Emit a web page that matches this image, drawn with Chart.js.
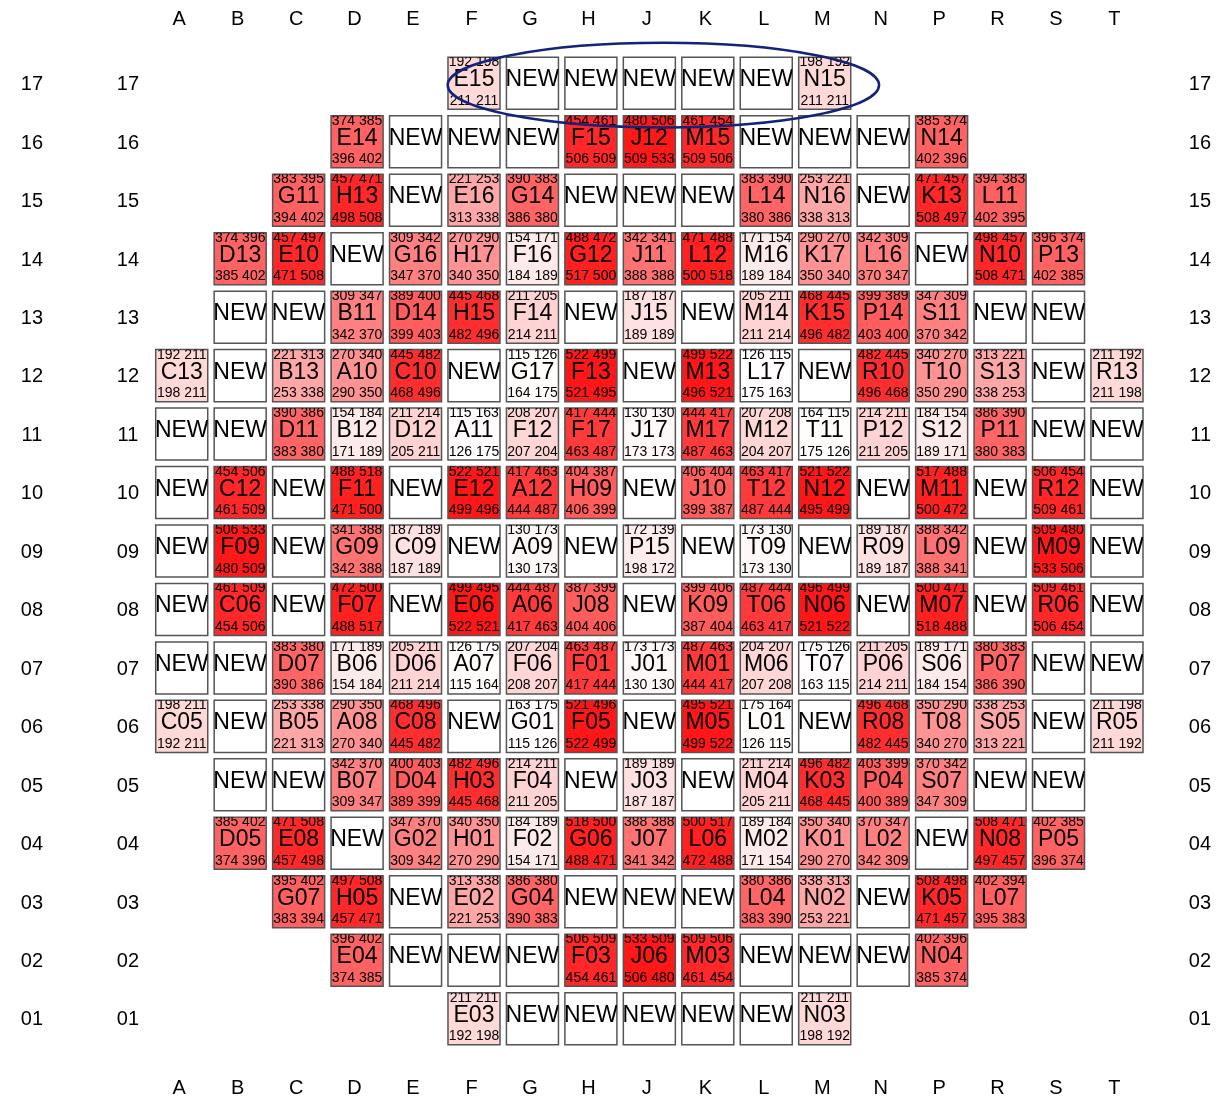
<!DOCTYPE html>
<html>
<head>
<meta charset="utf-8">
<script src="https://cdn.jsdelivr.net/npm/chart.js@4.4.1/dist/chart.umd.min.js"></script>
<style>
  html, body { margin: 0; padding: 0; background: #fff; }
  #wrap { width: 1231px; height: 1101px; position: relative; }
</style>
</head>
<body>
<div id="wrap"><canvas id="coreMap"></canvas></div>
<script>
const columns = ['A','B','C','D','E','F','G','H','J','K','L','M','N','P','R','S','T'];
const rows = ['17','16','15','14','13','12','11','10','09','08','07','06','05','04','03','02','01'];

// first occupied column of each row, top row first
const rowStart = ['F','D','C','B','B','A','A','A','A','A','A','A','B','B','C','D','F'];

// assembly id in each position, left to right from rowStart
const labelRows = [
  ['E15','NEW','NEW','NEW','NEW','NEW','N15'],
  ['E14','NEW','NEW','NEW','F15','J12','M15','NEW','NEW','NEW','N14'],
  ['G11','H13','NEW','E16','G14','NEW','NEW','NEW','L14','N16','NEW','K13','L11'],
  ['D13','E10','NEW','G16','H17','F16','G12','J11','L12','M16','K17','L16','NEW','N10','P13'],
  ['NEW','NEW','B11','D14','H15','F14','NEW','J15','NEW','M14','K15','P14','S11','NEW','NEW'],
  ['C13','NEW','B13','A10','C10','NEW','G17','F13','NEW','M13','L17','NEW','R10','T10','S13','NEW','R13'],
  ['NEW','NEW','D11','B12','D12','A11','F12','F17','J17','M17','M12','T11','P12','S12','P11','NEW','NEW'],
  ['NEW','C12','NEW','F11','NEW','E12','A12','H09','NEW','J10','T12','N12','NEW','M11','NEW','R12','NEW'],
  ['NEW','F09','NEW','G09','C09','NEW','A09','NEW','P15','NEW','T09','NEW','R09','L09','NEW','M09','NEW'],
  ['NEW','C06','NEW','F07','NEW','E06','A06','J08','NEW','K09','T06','N06','NEW','M07','NEW','R06','NEW'],
  ['NEW','NEW','D07','B06','D06','A07','F06','F01','J01','M01','M06','T07','P06','S06','P07','NEW','NEW'],
  ['C05','NEW','B05','A08','C08','NEW','G01','F05','NEW','M05','L01','NEW','R08','T08','S05','NEW','R05'],
  ['NEW','NEW','B07','D04','H03','F04','NEW','J03','NEW','M04','K03','P04','S07','NEW','NEW'],
  ['D05','E08','NEW','G02','H01','F02','G06','J07','L06','M02','K01','L02','NEW','N08','P05'],
  ['G07','H05','NEW','E02','G04','NEW','NEW','NEW','L04','N02','NEW','K05','L07'],
  ['E04','NEW','NEW','NEW','F03','J06','M03','NEW','NEW','NEW','N04'],
  ['E03','NEW','NEW','NEW','NEW','NEW','N03']
];

// corner values [top-left, top-right, bottom-left, bottom-right]; null for fresh fuel
const valueRows = [
  [[192,198,211,211],null,null,null,null,null,[198,192,211,211]],
  [[374,385,396,402],null,null,null,[454,461,506,509],[480,506,509,533],[461,454,509,506],null,null,null,[385,374,402,396]],
  [[383,395,394,402],[457,471,498,508],null,[221,253,313,338],[390,383,386,380],null,null,null,[383,390,380,386],[253,221,338,313],null,[471,457,508,497],[394,383,402,395]],
  [[374,396,385,402],[457,497,471,508],null,[309,342,347,370],[270,290,340,350],[154,171,184,189],[488,472,517,500],[342,341,388,388],[471,488,500,518],[171,154,189,184],[290,270,350,340],[342,309,370,347],null,[498,457,508,471],[396,374,402,385]],
  [null,null,[309,347,342,370],[389,400,399,403],[445,468,482,496],[211,205,214,211],null,[187,187,189,189],null,[205,211,211,214],[468,445,496,482],[399,389,403,400],[347,309,370,342],null,null],
  [[192,211,198,211],null,[221,313,253,338],[270,340,290,350],[445,482,468,496],null,[115,126,164,175],[522,499,521,495],null,[499,522,496,521],[126,115,175,163],null,[482,445,496,468],[340,270,350,290],[313,221,338,253],null,[211,192,211,198]],
  [null,null,[390,386,383,380],[154,184,171,189],[211,214,205,211],[115,163,126,175],[208,207,207,204],[417,444,463,487],[130,130,173,173],[444,417,487,463],[207,208,204,207],[164,115,175,126],[214,211,211,205],[184,154,189,171],[386,390,380,383],null,null],
  [null,[454,506,461,509],null,[488,518,471,500],null,[522,521,499,496],[417,463,444,487],[404,387,406,399],null,[406,404,399,387],[463,417,487,444],[521,522,495,499],null,[517,488,500,472],null,[506,454,509,461],null],
  [null,[506,533,480,509],null,[341,388,342,388],[187,189,187,189],null,[130,173,130,173],null,[172,139,198,172],null,[173,130,173,130],null,[189,187,189,187],[388,342,388,341],null,[509,480,533,506],null],
  [null,[461,509,454,506],null,[472,500,488,517],null,[499,495,522,521],[444,487,417,463],[387,399,404,406],null,[399,406,387,404],[487,444,463,417],[496,499,521,522],null,[500,471,518,488],null,[509,461,506,454],null],
  [null,null,[383,380,390,386],[171,189,154,184],[205,211,211,214],[126,175,115,164],[207,204,208,207],[463,487,417,444],[173,173,130,130],[487,463,444,417],[204,207,207,208],[175,126,163,115],[211,205,214,211],[189,171,184,154],[380,383,386,390],null,null],
  [[198,211,192,211],null,[253,338,221,313],[290,350,270,340],[468,496,445,482],null,[163,175,115,126],[521,496,522,499],null,[495,521,499,522],[175,164,126,115],null,[496,468,482,445],[350,290,340,270],[338,253,313,221],null,[211,198,211,192]],
  [null,null,[342,370,309,347],[400,403,389,399],[482,496,445,468],[214,211,211,205],null,[189,189,187,187],null,[211,214,205,211],[496,482,468,445],[403,399,400,389],[370,342,347,309],null,null],
  [[385,402,374,396],[471,508,457,498],null,[347,370,309,342],[340,350,270,290],[184,189,154,171],[518,500,488,471],[388,388,341,342],[500,517,472,488],[189,184,171,154],[350,340,290,270],[370,347,342,309],null,[508,471,497,457],[402,385,396,374]],
  [[395,402,383,394],[497,508,457,471],null,[313,338,221,253],[386,380,390,383],null,null,null,[380,386,383,390],[338,313,253,221],null,[508,498,471,457],[402,394,395,383]],
  [[396,402,374,385],null,null,null,[506,509,454,461],[533,509,506,480],[509,506,461,454],null,null,null,[402,396,385,374]],
  [[211,211,192,198],null,null,null,null,null,[211,211,198,192]]
];

// colour ramp: white at LOW, full red at HIGH (cell mean)
const LOW = 141, HIGH = 545;

const cells = [];
rows.forEach((row, r) => {
  const c0 = columns.indexOf(rowStart[r]);
  labelRows[r].forEach((id, k) => {
    cells.push({ x: columns[c0 + k], y: row, id: id, v: valueRows[r][k] });
  });
});

function fillFor(cell) {
  if (!cell || !cell.v) return '#ffffff';
  const mean = (cell.v[0] + cell.v[1] + cell.v[2] + cell.v[3]) / 4;
  let t = (mean - LOW) / (HIGH - LOW);
  t = Math.max(0, Math.min(1, t));
  const g = Math.round(255 * (1 - t));
  return 'rgb(255,' + g + ',' + g + ')';
}

function cellSide(chart) {
  return chart.scales.x.width / columns.length * 0.89;
}

const FONT = '"Liberation Sans", Arial, Helvetica, sans-serif';

const cellText = {
  id: 'cellText',
  afterDatasetsDraw(chart) {
    const ctx = chart.ctx;
    const meta = chart.getDatasetMeta(0);
    const data = chart.data.datasets[0].data;
    const half = cellSide(chart) / 2;
    ctx.save();
    ctx.fillStyle = '#000';
    ctx.textAlign = 'center';
    ctx.textBaseline = 'alphabetic';
    meta.data.forEach((pt, i) => {
      const d = data[i];
      ctx.save();
      ctx.beginPath();
      ctx.rect(pt.x - half, pt.y - half, half * 2, half * 2);
      ctx.clip();
      ctx.font = '23px ' + FONT;
      ctx.fillText(d.id, pt.x, pt.y + 3);
      if (d.v) {
        ctx.font = '14px ' + FONT;
        ctx.fillText(d.v[0] + ' ' + d.v[1], pt.x, pt.y - half + 9);
        ctx.fillText(d.v[2] + ' ' + d.v[3], pt.x, pt.y + half - 4.5);
      }
      ctx.restore();
    });
    ctx.restore();

    // outline around the top row
    const xs = chart.scales.x, ys = chart.scales.y;
    const step = xs.width / columns.length;
    const left = xs.getPixelForValue(columns.indexOf('F')) - 0.45 * step;
    const right = xs.getPixelForValue(columns.indexOf('N')) - 0.07 * step;
    const cy = ys.getPixelForValue(rows.indexOf('17')) + 0.03 * step;
    ctx.save();
    ctx.strokeStyle = '#14237a';
    ctx.lineWidth = 2.5;
    ctx.beginPath();
    ctx.ellipse((left + right) / 2, cy, (right - left) / 2, 0.724 * step, 0, 0, Math.PI * 2);
    ctx.stroke();
    ctx.restore();
  }
};

const tickFont = { family: FONT, size: 20 };

function axis(position, labels, ticks, fit, extra) {
  return Object.assign({
    type: 'category',
    position: position,
    labels: labels,
    offset: true,
    grid: { display: false, drawTicks: false },
    border: { display: false },
    ticks: Object.assign({ color: '#000', font: tickFont, autoSkip: false, maxRotation: 0, minRotation: 0 }, ticks),
    afterFit: fit
  }, extra || {});
}

new Chart(document.getElementById('coreMap'), {
  type: 'scatter',
  data: {
    datasets: [{
      data: cells,
      xAxisID: 'x',
      yAxisID: 'y',
      pointStyle: 'rect',
      pointRadius: c => cellSide(c.chart) / 2 / Math.SQRT1_2,
      pointHoverRadius: c => cellSide(c.chart) / 2 / Math.SQRT1_2,
      backgroundColor: c => fillFor(c.raw),
      hoverBackgroundColor: c => fillFor(c.raw),
      borderColor: '#555555',
      borderWidth: 1.5
    }]
  },
  options: {
    responsive: true,
    maintainAspectRatio: false,
    animation: false,
    events: [],
    layout: { padding: { left: 0, top: 0, bottom: 0, right: 19.9 } },
    plugins: { legend: { display: false }, tooltip: { enabled: false } },
    scales: {
      xTop: axis('top', columns, { padding: 22.6, labelOffset: -2.5 }, s => { s.height = 54.1; }),
      x: axis('bottom', columns, { padding: 28.6, labelOffset: -2.5 }, s => { s.height = 53.1; }),
      yOuter: axis('left', rows, { padding: 31.9, crossAlign: 'center', labelOffset: 1.3 }, s => { s.width = 75; }, { weight: 2 }),
      y: axis('left', rows, { padding: 13.4, crossAlign: 'center', labelOffset: 1.3 }, s => { s.width = 77.5; }, { weight: 1 }),
      yRight: axis('right', rows, { padding: 0, crossAlign: 'far', labelOffset: 1.3 }, s => { s.width = 64.9; })
    }
  },
  plugins: [cellText]
});
</script>
</body>
</html>
